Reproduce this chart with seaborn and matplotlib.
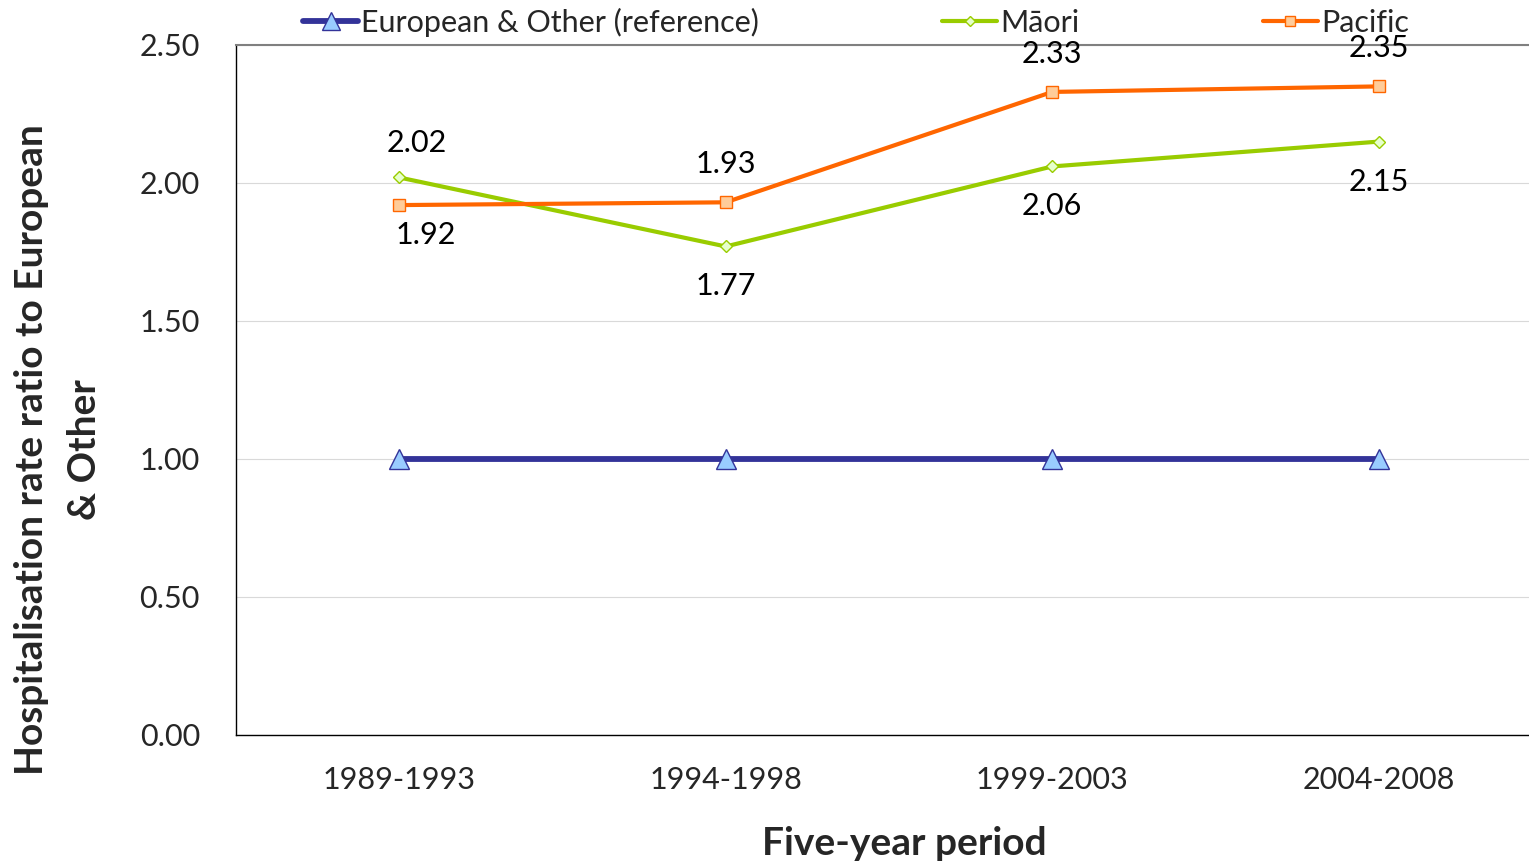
import matplotlib
matplotlib.use("Agg")
import matplotlib.pyplot as plt
import seaborn as sns
import pandas as pd
from matplotlib.lines import Line2D

periods = ["1989-1993", "1994-1998", "1999-2003", "2004-2008"]
european = [1.00, 1.00, 1.00, 1.00]
maori = [2.02, 1.77, 2.06, 2.15]
pacific = [1.92, 1.93, 2.33, 2.35]
maori_label_dir = [1, -1, -1, -1]
pacific_label_dir = [-1, 1, 1, 1]
series_names = ["European & Other (reference)", "Māori", "Pacific"]

sns.set_theme(style="white")
plt.rcParams["font.family"] = ["Lato", "DejaVu Sans"]

FS = 22

fig = plt.figure(figsize=(15.29, 8.63), dpi=100)
ax = fig.add_axes([236 / 1529, 1 - 735 / 863, (1542 - 236) / 1529, (735 - 45) / 863])

df = pd.DataFrame({
    "period": periods * 3,
    "value": european + maori + pacific,
    "series": [series_names[0]] * 4 + [series_names[1]] * 4 + [series_names[2]] * 4,
})

styles = {
    series_names[0]: dict(color="#333399", lw=4.2, marker="^", ms=15, mfc="#99CCFF", mec="#333399", mew=1.0),
    series_names[1]: dict(color="#99CC00", lw=3.0, marker="D", ms=6, mfc="#E6FFCC", mec="#99CC00", mew=1.0),
    series_names[2]: dict(color="#FF6600", lw=3.0, marker="s", ms=8, mfc="#FFCC99", mec="#FF6600", mew=1.0),
}

for name in series_names:
    st = styles[name]
    sub = df[df["series"] == name]
    sns.lineplot(data=sub, x="period", y="value", ax=ax, sort=False, color=st["color"],
                 linewidth=st["lw"], marker=st["marker"], markersize=st["ms"],
                 markerfacecolor=st["mfc"], markeredgecolor=st["mec"], markeredgewidth=st["mew"],
                 legend=False, zorder=3)

# data labels
for i, v in enumerate(maori):
    d = maori_label_dir[i]
    dx = 17 if i == 0 else 0
    ax.annotate(f"{v:.2f}", (i, v), xytext=(dx, 34 if d > 0 else -40), textcoords="offset pixels",
                ha="center", va="center", fontsize=FS, color="black")
for i, v in enumerate(pacific):
    d = pacific_label_dir[i]
    dx = 27 if i == 0 else 0
    ax.annotate(f"{v:.2f}", (i, v), xytext=(dx, 38 if d > 0 else -30), textcoords="offset pixels",
                ha="center", va="center", fontsize=FS, color="black")

ax.set_xlim(-0.5, 3.5)
ax.set_ylim(0, 2.5)
ax.set_yticks([0, 0.5, 1.0, 1.5, 2.0, 2.5])
ax.set_yticklabels([f"{t:.2f}" for t in [0, 0.5, 1.0, 1.5, 2.0, 2.5]], fontsize=FS)
ax.set_xticks(range(4))
ax.set_xticklabels(periods, fontsize=FS)
ax.set_xticks([-0.5, 0.5, 1.5, 2.5, 3.5], minor=True)
ax.tick_params(axis="x", which="major", length=0, pad=22)
ax.tick_params(axis="x", which="minor", length=8, width=0.8, color="#808080", direction="out")
ax.tick_params(axis="y", which="major", length=8, width=0.8, color="#808080", direction="out", pad=18)
ax.grid(axis="y", color="#D9D9D9", linewidth=0.8)
ax.set_xlabel("")
ax.set_ylabel("")
for side in ["left", "bottom"]:
    ax.spines[side].set_color("black")
    ax.spines[side].set_linewidth(1.0)
ax.spines["top"].set_color("#808080")
ax.spines["top"].set_linewidth(1.5)
ax.spines["right"].set_visible(False)

fig.text(904 / 1529, 1 - 843 / 863, "Five-year period", ha="center", va="center",
         fontsize=28, fontweight="bold")
fig.text(58 / 1529, 1 - 450 / 863, "Hospitalisation rate ratio to European\n& Other", ha="center", va="center",
         rotation=90, fontsize=28, fontweight="bold", linespacing=1.6)

handles = []
for name in series_names:
    st = styles[name]
    handles.append(Line2D([], [], color=st["color"], lw=st["lw"], marker=st["marker"],
                          markersize=st["ms"] * 0.9, markerfacecolor=st["mfc"], markeredgecolor=st["mec"]))
fig.legend(handles, series_names, loc="center left", bbox_to_anchor=(303 / 1529, 1 - 22 / 863),
           ncol=3, frameon=False, fontsize=FS, handlelength=1.8, handletextpad=0.1,
           columnspacing=6.0, borderaxespad=0, borderpad=0)

fig.savefig("out.png", dpi=100)
